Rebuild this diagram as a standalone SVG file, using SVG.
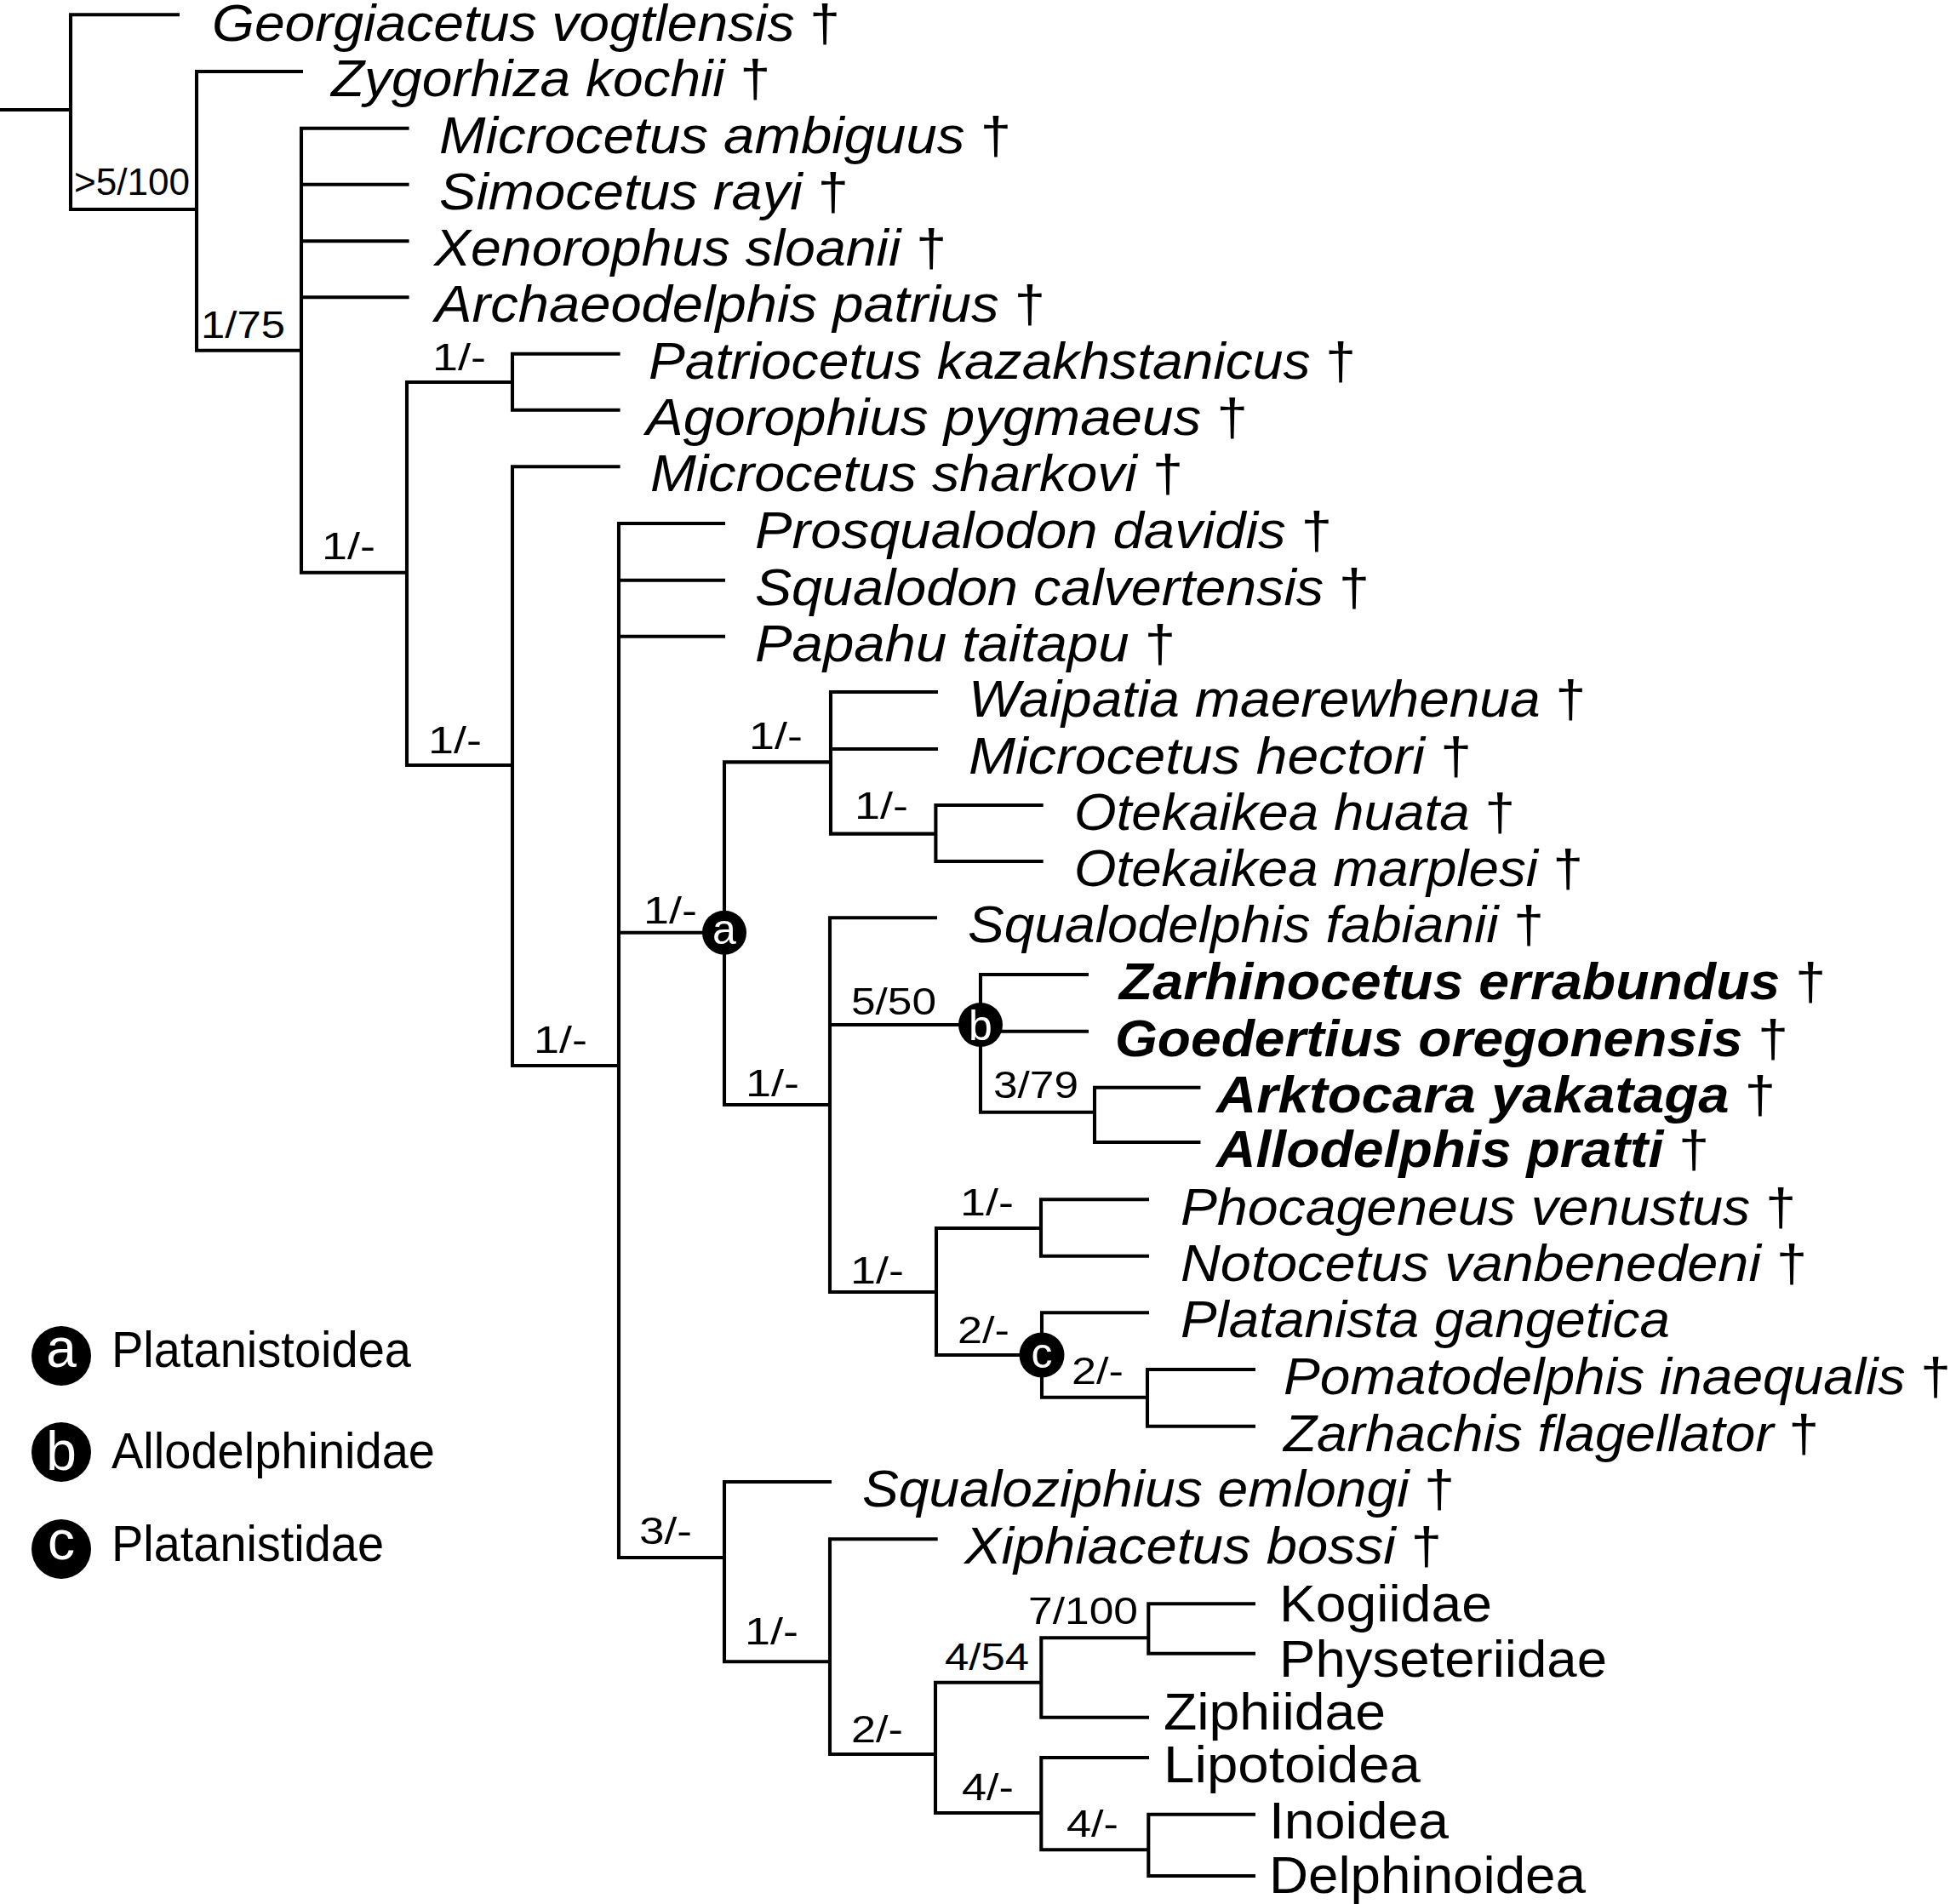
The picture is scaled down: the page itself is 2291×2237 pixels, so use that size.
<svg xmlns="http://www.w3.org/2000/svg" width="2291" height="2237" viewBox="0 0 2291 2237">
<style>
.br{fill:none;stroke:#000;stroke-width:4.1;stroke-linejoin:miter;stroke-linecap:butt}
.tx{font-family:"Liberation Sans",Arial,sans-serif;font-size:61px;font-style:italic;fill:#000}
.bd{font-weight:bold}
.dg{font-style:normal;font-weight:normal}
.up{font-style:normal}
.lb{font-family:"Liberation Sans",Arial,sans-serif;font-size:45px;fill:#000}
.mk{fill:#000}
.ml{font-family:"Liberation Sans",Arial,sans-serif;font-size:50px;fill:#fff;text-anchor:middle}
.lml{font-family:"Liberation Sans",Arial,sans-serif;font-size:64px;fill:#fff;text-anchor:middle}
.lg{font-family:"Liberation Sans",Arial,sans-serif;font-size:59px;fill:#000}
</style>
<rect width="2291" height="2237" fill="#fff"/>
<g id="connectors">
<path class="br" d="M0,129 H83 M211,17.3 H83 V246 H231"/>
<path class="br" d="M356,84 H231 V411.7 H354"/>
<path class="br" d="M480.6,150.7 H354 V672.7 H478 M354,216.7 H480.6 M354,283.3 H480.6 M354,349.3 H480.6"/>
<path class="br" d="M602,449 H478 V899 H602"/>
<path class="br" d="M728.6,415.7 H602 V481.7 H728.6"/>
<path class="br" d="M728.6,548.3 H602 V1252 H727"/>
<path class="br" d="M852,615 H727 V1830 H851 M727,681.7 H852 M727,747.7 H852 M727,1095.7 H840"/>
<path class="br" d="M976,895.4 H851 V1298 H975"/>
<path class="br" d="M1102,813 H976 V979.6 H1099.4 M976,880 H1102"/>
<path class="br" d="M1225.7,946 H1099.4 V1012 H1225.7"/>
<path class="br" d="M1101,1078.3 H975 V1518 H1100 M975,1204 H1152"/>
<path class="br" d="M1279,1145 H1152 V1306.7 H1286 M1152,1211.7 H1279"/>
<path class="br" d="M1410.5,1277.7 H1286 V1342 H1410.5"/>
<path class="br" d="M1223,1443 H1100 V1592 H1224"/>
<path class="br" d="M1350,1409.3 H1223 V1475.7 H1350"/>
<path class="br" d="M1350,1542.3 H1224 V1641.7 H1348"/>
<path class="br" d="M1475,1609 H1348 V1675.7 H1475"/>
<path class="br" d="M977,1741 H851 V1952.3 H975"/>
<path class="br" d="M1101.7,1808.3 H975 V2061 H1099"/>
<path class="br" d="M1223.3,1976.7 H1099 V2130 H1223.3"/>
<path class="br" d="M1349.3,1924.3 H1223.3 V2017.7 H1350"/>
<path class="br" d="M1475,1884.3 H1349.3 V1942.7 H1475"/>
<path class="br" d="M1350,2065 H1223.3 V2173.3 H1349.3"/>
<path class="br" d="M1475,2131.7 H1349.3 V2204 H1475"/>
</g>
<g id="support-values">
<text class="lb" x="87" y="229" textLength="136" lengthAdjust="spacingAndGlyphs">&gt;5/100</text>
<text class="lb" x="236" y="397" textLength="99" lengthAdjust="spacingAndGlyphs">1/75</text>
<text class="lb" x="508" y="435" textLength="63" lengthAdjust="spacingAndGlyphs">1/-</text>
<text class="lb" x="378" y="656.7" textLength="63" lengthAdjust="spacingAndGlyphs">1/-</text>
<text class="lb" x="503" y="885" textLength="63" lengthAdjust="spacingAndGlyphs">1/-</text>
<text class="lb" x="627" y="1237" textLength="63" lengthAdjust="spacingAndGlyphs">1/-</text>
<text class="lb" x="756" y="1085" textLength="63" lengthAdjust="spacingAndGlyphs">1/-</text>
<text class="lb" x="880" y="880" textLength="63" lengthAdjust="spacingAndGlyphs">1/-</text>
<text class="lb" x="1004" y="962.4" textLength="63" lengthAdjust="spacingAndGlyphs">1/-</text>
<text class="lb" x="876" y="1288.3" textLength="63" lengthAdjust="spacingAndGlyphs">1/-</text>
<text class="lb" x="1000" y="1192.3" textLength="100" lengthAdjust="spacingAndGlyphs">5/50</text>
<text class="lb" x="1167" y="1290" textLength="100" lengthAdjust="spacingAndGlyphs">3/79</text>
<text class="lb" x="999" y="1508" textLength="63" lengthAdjust="spacingAndGlyphs">1/-</text>
<text class="lb" x="1128" y="1428.3" textLength="63" lengthAdjust="spacingAndGlyphs">1/-</text>
<text class="lb" x="1125" y="1577.7" textLength="61" lengthAdjust="spacingAndGlyphs">2/-</text>
<text class="lb" x="1259" y="1626" textLength="61" lengthAdjust="spacingAndGlyphs">2/-</text>
<text class="lb" x="751" y="1814" textLength="62" lengthAdjust="spacingAndGlyphs">3/-</text>
<text class="lb" x="875" y="1932.3" textLength="63" lengthAdjust="spacingAndGlyphs">1/-</text>
<text class="lb" x="1000" y="2046.7" textLength="61" lengthAdjust="spacingAndGlyphs">2/-</text>
<text class="lb" x="1110" y="1961.7" textLength="99" lengthAdjust="spacingAndGlyphs">4/54</text>
<text class="lb" x="1208" y="1907.7" textLength="129" lengthAdjust="spacingAndGlyphs">7/100</text>
<text class="lb" x="1130" y="2115" textLength="61" lengthAdjust="spacingAndGlyphs">4/-</text>
<text class="lb" x="1253" y="2158.3" textLength="61" lengthAdjust="spacingAndGlyphs">4/-</text>
</g>
<g id="marker-a"><circle class="mk" cx="851" cy="1095.7" r="26"/><text class="ml" x="851" y="1108.7">a</text></g>
<g id="marker-b"><circle class="mk" cx="1152" cy="1204" r="26"/><text class="ml" x="1152" y="1222">b</text></g>
<g id="marker-c"><circle class="mk" cx="1224" cy="1592" r="26.5"/><text class="ml" x="1224" y="1607">c</text></g>
<g id="taxa">
<g id="t-georgiacetus"><text class="tx" x="249" y="47.5" textLength="738" lengthAdjust="spacingAndGlyphs">Georgiacetus vogtlensis<tspan class="dg"> †</tspan></text></g>
<g id="t-zygorhiza"><text class="tx" x="389" y="113" textLength="516" lengthAdjust="spacingAndGlyphs">Zygorhiza kochii<tspan class="dg"> †</tspan></text></g>
<g id="t-microcetus-ambiguus"><text class="tx" x="516" y="179.7" textLength="672" lengthAdjust="spacingAndGlyphs">Microcetus ambiguus<tspan class="dg"> †</tspan></text></g>
<g id="t-simocetus"><text class="tx" x="516" y="245.7" textLength="481" lengthAdjust="spacingAndGlyphs">Simocetus rayi<tspan class="dg"> †</tspan></text></g>
<g id="t-xenorophus"><text class="tx" x="510" y="312.3" textLength="602" lengthAdjust="spacingAndGlyphs">Xenorophus sloanii<tspan class="dg"> †</tspan></text></g>
<g id="t-archaeodelphis"><text class="tx" x="511" y="378.3" textLength="717" lengthAdjust="spacingAndGlyphs">Archaeodelphis patrius<tspan class="dg"> †</tspan></text></g>
<g id="t-patriocetus"><text class="tx" x="762" y="444.7" textLength="831" lengthAdjust="spacingAndGlyphs">Patriocetus kazakhstanicus<tspan class="dg"> †</tspan></text></g>
<g id="t-agorophius"><text class="tx" x="759" y="510.7" textLength="707" lengthAdjust="spacingAndGlyphs">Agorophius pygmaeus<tspan class="dg"> †</tspan></text></g>
<g id="t-microcetus-sharkovi"><text class="tx" x="764" y="577.3" textLength="626" lengthAdjust="spacingAndGlyphs">Microcetus sharkovi<tspan class="dg"> †</tspan></text></g>
<g id="t-prosqualodon"><text class="tx" x="887" y="644" textLength="678" lengthAdjust="spacingAndGlyphs">Prosqualodon davidis<tspan class="dg"> †</tspan></text></g>
<g id="t-squalodon"><text class="tx" x="887" y="710.7" textLength="722" lengthAdjust="spacingAndGlyphs">Squalodon calvertensis<tspan class="dg"> †</tspan></text></g>
<g id="t-papahu"><text class="tx" x="887" y="776.7" textLength="494" lengthAdjust="spacingAndGlyphs">Papahu taitapu<tspan class="dg"> †</tspan></text></g>
<g id="t-waipatia"><text class="tx" x="1138" y="842" textLength="725" lengthAdjust="spacingAndGlyphs">Waipatia maerewhenua<tspan class="dg"> †</tspan></text></g>
<g id="t-microcetus-hectori"><text class="tx" x="1138" y="909" textLength="591" lengthAdjust="spacingAndGlyphs">Microcetus hectori<tspan class="dg"> †</tspan></text></g>
<g id="t-otekaikea-huata"><text class="tx" x="1262" y="975" textLength="518" lengthAdjust="spacingAndGlyphs">Otekaikea huata<tspan class="dg"> †</tspan></text></g>
<g id="t-otekaikea-marplesi"><text class="tx" x="1262" y="1041" textLength="598" lengthAdjust="spacingAndGlyphs">Otekaikea marplesi<tspan class="dg"> †</tspan></text></g>
<g id="t-squalodelphis"><text class="tx" x="1137" y="1107.3" textLength="677" lengthAdjust="spacingAndGlyphs">Squalodelphis fabianii<tspan class="dg"> †</tspan></text></g>
<g id="t-zarhinocetus"><text class="tx bd" x="1315" y="1174" textLength="830" lengthAdjust="spacingAndGlyphs">Zarhinocetus errabundus<tspan class="dg"> †</tspan></text></g>
<g id="t-goedertius"><text class="tx bd" x="1310" y="1240.7" textLength="791" lengthAdjust="spacingAndGlyphs">Goedertius oregonensis<tspan class="dg"> †</tspan></text></g>
<g id="t-arktocara"><text class="tx bd" x="1429" y="1306.7" textLength="657" lengthAdjust="spacingAndGlyphs">Arktocara yakataga<tspan class="dg"> †</tspan></text></g>
<g id="t-allodelphis"><text class="tx bd" x="1429" y="1371" textLength="579" lengthAdjust="spacingAndGlyphs">Allodelphis pratti<tspan class="dg"> †</tspan></text></g>
<g id="t-phocageneus"><text class="tx" x="1387" y="1439" textLength="723" lengthAdjust="spacingAndGlyphs">Phocageneus venustus<tspan class="dg"> †</tspan></text></g>
<g id="t-notocetus"><text class="tx" x="1387" y="1505" textLength="736" lengthAdjust="spacingAndGlyphs">Notocetus vanbenedeni<tspan class="dg"> †</tspan></text></g>
<g id="t-platanista"><text class="tx" x="1387" y="1571.3" textLength="575" lengthAdjust="spacingAndGlyphs">Platanista gangetica</text></g>
<g id="t-pomatodelphis"><text class="tx" x="1508" y="1638" textLength="784" lengthAdjust="spacingAndGlyphs">Pomatodelphis inaequalis<tspan class="dg"> †</tspan></text></g>
<g id="t-zarhachis"><text class="tx" x="1508" y="1704.7" textLength="629" lengthAdjust="spacingAndGlyphs">Zarhachis flagellator<tspan class="dg"> †</tspan></text></g>
<g id="t-squaloziphius"><text class="tx" x="1013" y="1770" textLength="696" lengthAdjust="spacingAndGlyphs">Squaloziphius emlongi<tspan class="dg"> †</tspan></text></g>
<g id="t-xiphiacetus"><text class="tx" x="1133" y="1837.3" textLength="561" lengthAdjust="spacingAndGlyphs">Xiphiacetus bossi<tspan class="dg"> †</tspan></text></g>
<g id="t-kogiidae"><text class="tx up" x="1503" y="1905" textLength="250" lengthAdjust="spacingAndGlyphs">Kogiidae</text></g>
<g id="t-physeteriidae"><text class="tx up" x="1503" y="1970" textLength="385" lengthAdjust="spacingAndGlyphs">Physeteriidae</text></g>
<g id="t-ziphiidae"><text class="tx up" x="1367" y="2032" textLength="261" lengthAdjust="spacingAndGlyphs">Ziphiidae</text></g>
<g id="t-lipotoidea"><text class="tx up" x="1367" y="2094" textLength="302" lengthAdjust="spacingAndGlyphs">Lipotoidea</text></g>
<g id="t-inoidea"><text class="tx up" x="1491" y="2160" textLength="211" lengthAdjust="spacingAndGlyphs">Inoidea</text></g>
<g id="t-delphinoidea"><text class="tx up" x="1491" y="2224" textLength="372" lengthAdjust="spacingAndGlyphs">Delphinoidea</text></g>
</g>
<g id="legend">
<g id="legend-a"><circle class="mk" cx="72" cy="1593" r="35"/><text class="lml" x="72" y="1606">a</text><text class="lg" x="131" y="1606" textLength="352" lengthAdjust="spacingAndGlyphs">Platanistoidea</text></g>
<g id="legend-b"><circle class="mk" cx="72" cy="1706" r="35"/><text class="lml" x="72" y="1727">b</text><text class="lg" x="131" y="1725" textLength="380" lengthAdjust="spacingAndGlyphs">Allodelphinidae</text></g>
<g id="legend-c"><circle class="mk" cx="72" cy="1820" r="35"/><text class="lml" x="72" y="1832">c</text><text class="lg" x="131" y="1834" textLength="320" lengthAdjust="spacingAndGlyphs">Platanistidae</text></g>
</g>
</svg>
